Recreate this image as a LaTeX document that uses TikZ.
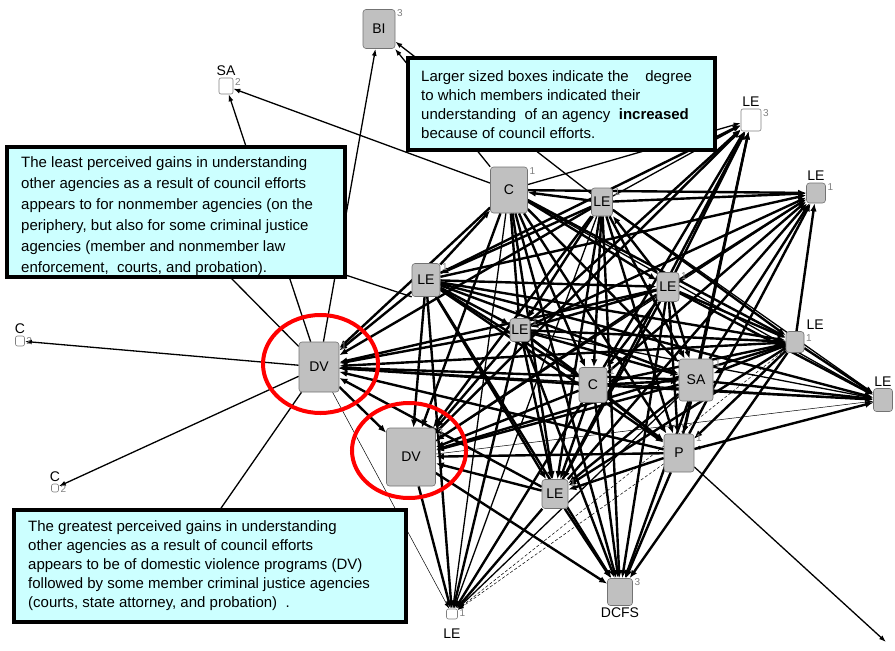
\documentclass[tikz,border=0pt]{standalone}
\usepackage{fontspec}
\setmainfont{Liberation Sans}
\usetikzlibrary{arrows.meta}
\definecolor{callout}{HTML}{CCFFFF}
\definecolor{nodegray}{HTML}{C0C0C0}
\pgfdeclarelayer{edges}
\pgfdeclarelayer{front}
\pgfsetlayers{edges,main,front}

\begin{document}
\begin{tikzpicture}[x=1pt,y=-1pt,
  gnode/.style={draw=gray!90!black, fill=nodegray, rounded corners=3pt, inner sep=0pt,
                line width=0.6pt, font=\fontsize{14}{14}\selectfont},
  wnode/.style={draw=gray, fill=white, rounded corners=2pt, inner sep=0pt, line width=0.6pt},
  sz/.style 2 args={minimum width=#1pt, minimum height=#2pt},
  digit/.style={anchor=north west, inner sep=0.5pt, xshift=1pt, font=\fontsize{10}{10}\selectfont, text=gray},
  lbl/.style={font=\fontsize{14}{14}\selectfont, inner sep=2pt},
  lnk/.style={line width=2.4pt, -{Latex[length=8pt,width=6.5pt]}},
  lnkm/.style={line width=1.3pt, -{Latex[length=7pt,width=5pt]}},
  lnkt/.style={line width=0.5pt, -{Latex[length=6pt,width=4pt]}},
  lnkd/.style={line width=0.5pt, dash pattern=on 3pt off 2pt, -{Latex[length=6pt,width=4pt]}},
  plain/.style={line width=1.3pt},
  boxframe/.style={draw=black, fill=callout, line width=3.5pt},
  txt/.style={anchor=north west, align=left, inner sep=0pt}
]
\useasboundingbox (0,0) rectangle (895,651);

% ---------- agencies ----------
\node[gnode, sz={32}{39}, label={[digit]north east:3}] (bi) at (379,29) {BI};
\node[wnode, sz={14}{16}, label={[lbl]above:SA}, label={[digit]north east:2}] (sat) at (226,86) {};
\node[gnode, sz={37}{46}, label={[digit]north east:1}] (c1) at (509,190) {\raisebox{-4pt}{C}};
\node[gnode, sz={21}{28}, label={[digit]north east:1}] (lea) at (602,202) {\raisebox{-3pt}{LE}};
\node[wnode, sz={20}{22}, label={[lbl]above:LE}, label={[digit]north east:3}] (leb) at (751,120) {};
\node[gnode, sz={19}{20}, label={[lbl]above:LE}, label={[digit]north east:1}] (lec) at (816,193) {};
\node[gnode, sz={28}{33}, label={[digit]north east:1}] (led) at (426,280) {LE};
\node[gnode, sz={22}{29}, label={[digit]north east:1}] (lee) at (668,287) {LE};
\node[gnode, sz={20}{23}, label={[digit]north east:1}] (lef) at (520,330) {LE};
\node[gnode, sz={18}{21}, label={[lbl, anchor=south west]north east:LE}, label={[digit, yshift=-3pt]north east:1}] (leg) at (795,342) {};
\node[gnode, sz={19}{23}, label={[lbl]above:LE}] (leh) at (883,400) {};
\node[gnode, sz={28}{35}, label={[digit]north east:1}] (cm) at (593,385) {C};
\node[gnode, sz={34}{42}, label={[digit]north east:1}] (sam) at (696,380) {SA};
\node[gnode, sz={40}{50}, label={[digit]north east:1}] (dv1) at (319,367) {DV};
\node[gnode, sz={49}{58}, label={[digit]north east:3}] (dv2) at (411,457) {DV};
\node[gnode, sz={30}{38}, label={[digit]north east:1}] (p) at (679,453) {P};
\node[gnode, sz={26}{29}, label={[digit]north east:1}] (lei) at (555,494) {\raisebox{-3pt}{LE}};
\node[gnode, sz={25}{27}, label={[lbl]below:DCFS}, label={[digit]north east:3}] (dcfs) at (620,592) {};
\node[wnode, sz={11}{10}, label={[lbl, yshift=-7pt]below:LE}, label={[digit]north east:1}] (lej) at (452,614) {};
\node[wnode, sz={9}{10}, label={[lbl]above:C}, label={[digit, yshift=-1pt]north east:2}] (cla) at (20,341) {};
\node[wnode, sz={7}{8}, label={[lbl]above:C}, label={[digit, yshift=-1pt]north east:2}] (clb) at (55,488) {};

% loose ends of links that run under the notes or off the chart
\coordinate (hA) at (150,196);
\coordinate (hB) at (300,260);
\coordinate (hC) at (185,560);
\coordinate (tail) at (886,642);

% ---------- links ----------
\begin{pgfonlayer}{edges}
\fill[white] (0,0) rectangle (895,651);
\foreach \a/\b in {
  lea/c1, led/c1, c1/lec, c1/lee, c1/lef, c1/leg, c1/cm, c1/sam, c1/p, c1/lei, c1/dcfs, c1/dv1, c1/dv2,
  lea/lec, lea/led, lee/lea, lea/lef, lea/leg, lea/cm, lea/sam, lea/p, lea/lei, lea/dcfs, lea/dv1, lea/dv2,
  led/leb, lef/leb, lee/leb, cm/leb, sam/leb, p/leb, lei/leb, dv2/leb,
  led/lec, lee/lec, lef/lec, leg/lec, cm/lec, sam/lec, p/lec, lei/lec,
  led/lee, led/lef, led/leg, led/leh, led/cm, led/sam, led/dv1, led/dv2, led/p, led/lei, led/dcfs,
  lee/lef, lee/leg, lee/leh, lee/cm, lee/sam, lee/dv1, lee/dv2, lee/p, lee/lei, lee/dcfs,
  lef/leg, lef/cm, lef/sam, lef/dv1, lef/dv2, lef/p, lef/lei, lef/dcfs,
  leg/leh, leg/cm, leg/sam, leg/dv1, leg/dv2, leg/p, leg/lei, leg/dcfs,
  sam/leh, cm/leh, p/leh,
  cm/sam, cm/dv1, cm/dv2, cm/p, cm/lei, cm/dcfs,
  sam/dv1, sam/dv2, sam/p, sam/lei, sam/dcfs,
  dv1/dv2, p/dv1, lei/dv1, p/dv2, lei/dv2, dv2/dcfs,
  p/lei, p/dcfs, lei/dcfs,
  led/lej, lef/lej, lei/lej, cm/lej, dv2/lej}
  \draw[lnk] (\a) -- (\b);
\foreach \a/\b in {c1/leb, c1/leh, lea/leb, lea/leh, lef/leh, lea/lej, c1/lej, sam/lej,
  dv1/leh, dv2/lec, dv1/cla, dv1/clb, dv1/sat, dv1/bi, c1/sat, c1/bi, lea/bi, p/tail}
  \draw[lnkm] (\a) -- (\b);
\foreach \a/\b in {dv1/lej, dv2/leh, leh/p, leg/p}
  \draw[lnkt] (\a) -- (\b);
\foreach \a/\b in {p/lej, leg/lej}
  \draw[lnkd] (\a) -- (\b);
\draw[plain] (dv1) -- (hA);
\draw[plain] (dv1) -- (hC);
\draw[plain] (led.south west) -- (hB);
\end{pgfonlayer}

% ---------- highlights and notes ----------
\begin{pgfonlayer}{front}
\draw[red, line width=4pt] (320.5,364) ellipse [x radius=57.5pt, y radius=49pt];
\draw[red, line width=4pt] (409,450.5) ellipse [x radius=57pt, y radius=47.5pt];

\filldraw[boxframe] (408,58) rectangle (715,150);
\node[txt, font=\fontsize{15}{19}\selectfont] (note1) at (421,70)
  {Larger sized boxes indicate the\hspace{1.1em}degree\\
   to which members indicated their\\
   understanding\ \ of an agency\ \ \textbf{increased}\\
   because of council efforts.};

\filldraw[boxframe] (7,147) rectangle (345,277);
\node[txt, font=\fontsize{15}{21}\selectfont] (note2) at (21,156)
  {The least perceived gains in understanding\\
   other agencies as a result of council efforts\\
   appears to for nonmember agencies (on the\\
   periphery, but also for some criminal justice\\
   agencies (member and nonmember law\\
   enforcement,\ \ courts, and probation).};

\filldraw[boxframe] (14,510) rectangle (406,622);
\node[txt, font=\fontsize{15}{19}\selectfont] (note3) at (28,520)
  {The greatest perceived gains in understanding\\
   other agencies as a result of council efforts\\
   appears to be of domestic violence programs (DV)\\
   followed by some member criminal justice agencies\\
   (courts, state attorney, and probation)\ \ .};
\end{pgfonlayer}
\end{tikzpicture}
\end{document}
